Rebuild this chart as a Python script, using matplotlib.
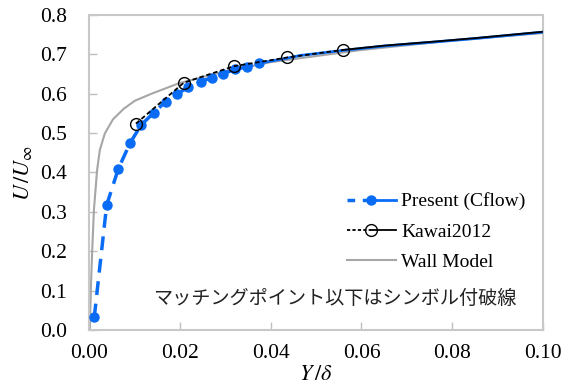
import numpy as np
import matplotlib
matplotlib.use("Agg")
import matplotlib.pyplot as plt
from matplotlib.lines import Line2D
from matplotlib.legend_handler import HandlerBase

plt.rcParams["font.family"] = ["Liberation Serif", "DejaVu Serif"]
plt.rcParams["mathtext.fontset"] = "stix"

# Present (Cflow): symbols + dashed below the matching point
present_x = [0.00117, 0.0039, 0.00646, 0.00903, 0.01145, 0.0143, 0.0169, 0.0193,
             0.0219, 0.0246, 0.0270, 0.0296, 0.0322, 0.0349, 0.0374]
present_y = [0.032, 0.317, 0.409, 0.474, 0.520, 0.552, 0.580, 0.599,
             0.616, 0.630, 0.641, 0.651, 0.662, 0.668, 0.677]
# Present above the matching point (solid)
present_line_x = [0.0374, 0.044, 0.0465, 0.056, 0.065, 0.0758, 0.085, 0.0997]
present_line_y = [0.677, 0.691, 0.697, 0.710, 0.721, 0.731, 0.740, 0.756]

# Kawai2012
kawai_x = [0.01035, 0.0209, 0.032, 0.0437, 0.0559]
kawai_y = [0.524, 0.628, 0.670, 0.692, 0.711]
kawai_line_x = [0.0559, 0.065, 0.0758, 0.085, 0.0997]
kawai_line_y = [0.711, 0.722, 0.732, 0.741, 0.757]

# Wall model
wall_x = [0.0002, 0.00044, 0.00073, 0.0011, 0.0018, 0.0024, 0.0035, 0.0053, 0.0077,
          0.0101, 0.0138, 0.0197, 0.03, 0.04, 0.06, 0.08, 0.1]
wall_y = [0.0, 0.11, 0.203, 0.305, 0.406, 0.457, 0.499, 0.535, 0.562,
          0.582, 0.600, 0.626, 0.657, 0.680, 0.711, 0.735, 0.754]

blue = "#0A6CF5"
gray = "#A6A6A6"


class SplitHandler(HandlerBase):
    # legend sample: dashed half, marker, solid half
    def create_artists(self, legend, orig_handle, xdescent, ydescent,
                       width, height, fontsize, trans):
        dashed, solid = orig_handle
        y = height / 2 - ydescent
        x0 = -xdescent
        mid = x0 + width / 2
        a = Line2D([x0, mid], [y, y], color=dashed.get_color(),
                   lw=dashed.get_linewidth(), dashes=legend_dashes[id(dashed)])
        b = Line2D([mid, x0 + width], [y, y], color=solid.get_color(),
                   lw=solid.get_linewidth())
        m = Line2D([mid], [y], linestyle="none", marker=dashed.get_marker(),
                   ms=dashed.get_markersize(),
                   mfc=dashed.get_markerfacecolor(),
                   mec=dashed.get_markeredgecolor(), mew=dashed.get_markeredgewidth())
        for art in (a, b, m):
            art.set_transform(trans)
        return [a, b, m]


fig = plt.figure(figsize=(5.7, 3.92), dpi=100)
ax = fig.add_axes([0.156, 0.158, 0.797, 0.804])

wall, = ax.plot(wall_x, wall_y, color=gray, lw=1.5, zorder=2)

p_sol, = ax.plot(present_line_x, present_line_y, color=blue, lw=2.0, zorder=3)
p_dash, = ax.plot(present_x, present_y, color=blue, lw=2.5, dashes=(4, 2.5),
                  marker="o", ms=6.5, mfc=blue, mec=blue, zorder=3)

k_sol, = ax.plot(kawai_line_x, kawai_line_y, color="black", lw=1.3, zorder=4)
k_dash, = ax.plot(kawai_x, kawai_y, color="black", lw=1.3, dashes=(2.5, 1.5),
                  marker="o", ms=8.5, mfc="none", mec="black", mew=1.0, zorder=4)

legend_dashes = {id(p_dash): (2.2, 2.2), id(k_dash): (1.8, 1.2)}

ax.set_xlim(0, 0.10)
ax.set_ylim(0, 0.8)
ax.set_xticks(np.arange(0, 0.101, 0.02))
ax.set_yticks(np.arange(0, 0.81, 0.1))
ax.set_xticklabels(["%.2f" % v for v in np.arange(0, 0.101, 0.02)])
ax.set_yticklabels(["%.1f" % v for v in np.arange(0, 0.81, 0.1)])
ax.tick_params(direction="in", length=6, width=1.0, color="#BFBFBF",
               labelsize=15.5, labelcolor="black")
ax.tick_params(axis="y", pad=16)
ax.tick_params(axis="x", pad=10)
for s in ax.spines.values():
    s.set_color("#C8C8C8")
    s.set_linewidth(1.5)

ax.set_xlabel(r"$Y\,/\delta$", fontsize=16, labelpad=2)
ax.set_ylabel(r"$U\,/U_\infty$", fontsize=16, labelpad=4)

ax.legend([(p_dash, p_sol), (k_dash, k_sol), wall],
          ["Present (Cflow)", "Kawai2012", "Wall Model"],
          handler_map={tuple: SplitHandler()},
          loc="lower right", bbox_to_anchor=(1.0, 0.132), frameon=False,
          fontsize=14, handlelength=2.5, handletextpad=0.3,
          labelspacing=0.65)

ax.text(0.54, 0.10, "マッチングポイント以下はシンボル付破線",
        transform=ax.transAxes, ha="center", va="center", fontsize=13.8,
        family=["Noto Sans CJK JP", "DejaVu Sans"], color="#222222")

fig.savefig("out.png", dpi=100)
